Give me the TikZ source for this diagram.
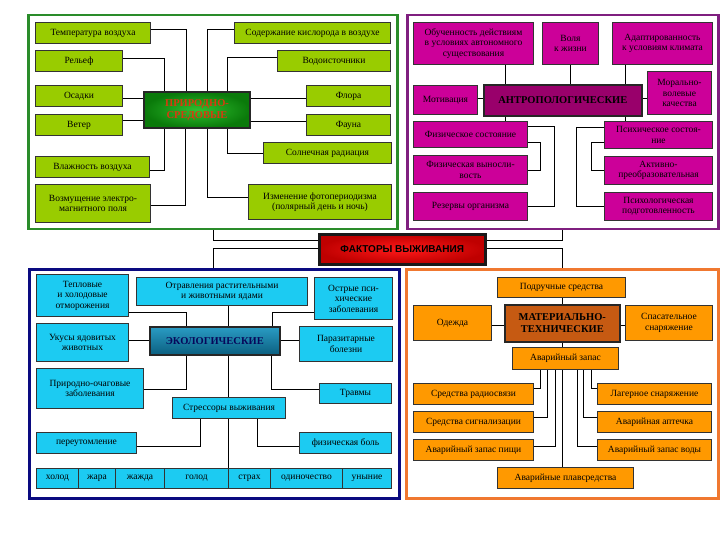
\documentclass[tikz,border=0pt]{standalone}
\usepackage{fontspec}
\setmainfont{Liberation Serif}
\newfontfamily\sansf{Liberation Sans}
\definecolor{gfill}{HTML}{99CC00}
\definecolor{pfill}{HTML}{CC0099}
\definecolor{pmainfill}{HTML}{99006B}
\definecolor{bfill}{HTML}{1CCBF2}
\definecolor{ofill}{HTML}{FF9900}
\definecolor{omainfill}{HTML}{C65A12}
\definecolor{gpanelc}{HTML}{2A8C2A}
\definecolor{ppanelc}{HTML}{7F1F7F}
\definecolor{bpanelc}{HTML}{0A0A80}
\definecolor{opanelc}{HTML}{F07830}
\definecolor{prirtext}{HTML}{D83A10}
\definecolor{gin}{HTML}{2FBF2F}
\definecolor{gout}{HTML}{0A7A0A}
\definecolor{ekoltop}{HTML}{2A9CC4}
\definecolor{ekolbot}{HTML}{0B5F80}
\newcommand\bx[7]{\node[#1,anchor=north west,minimum width={#4-#2},minimum height={#5-#3}] (#6) at (#2,#3) {#7};}
\begin{document}
\begin{tikzpicture}[x=1pt,y=-1pt,
  every node/.style={font=\fontsize{9.5}{10.5}\selectfont, inner sep=1pt, align=center},
  box/.style={draw=black!80, line width=1pt},
  gbox/.style={box, fill=gfill},
  pbox/.style={box, fill=pfill},
  bbox/.style={box, fill=bfill},
  obox/.style={box, fill=ofill},
  titlefont/.style={font=\bfseries\fontsize{10.5}{12}\selectfont},
  gmain/.style={draw=black!85, line width=2pt, inner color=gin, outer color=gout, text=prirtext, titlefont},
  pmain/.style={draw=black!85, line width=1.6pt, fill=pmainfill, titlefont},
  bmain/.style={draw=black!85, line width=1.6pt, top color=ekoltop, bottom color=ekolbot, text=bpanelc!70!black, titlefont},
  omain/.style={draw=black!85, line width=1.6pt, fill=omainfill, titlefont},
  redbox/.style={draw=black!90, line width=2.5pt, inner color=red!90!white, outer color=red!75!black, font=\sansf\bfseries\fontsize{10}{12}\selectfont},
  panel/.style={draw, line width=2.5pt, fill=none, inner sep=0pt},
  conn/.style={draw=black, line width=0.8pt},
]
\fill[white] (0,0) rectangle (720,540);
\useasboundingbox (0,0) rectangle (720,540);

% panels
\bx{panel,draw=gpanelc}{27}{14}{396}{228}{gpan}{}
\bx{panel,draw=ppanelc}{406}{14}{717}{228}{ppan}{}
\bx{panel,draw=bpanelc}{28}{268}{398}{497}{bpan}{}
\bx{panel,draw=opanelc}{405}{268}{717}{497}{opan}{}

% ---------- green ----------
\bx{gbox}{35}{22}{150}{43}{temp}{Температура воздуха}
\bx{gbox}{234}{22}{390}{43}{kisl}{Содержание кислорода в воздухе}
\bx{gbox}{35}{50}{122}{71}{rel}{Рельеф}
\bx{gbox}{277}{50}{390}{71}{vod}{Водоисточники}
\bx{gbox}{35}{85}{122}{106}{osad}{Осадки}
\bx{gbox}{306}{85}{390}{106}{flora}{Флора}
\bx{gbox}{35}{114}{122}{135}{veter}{Ветер}
\bx{gbox}{306}{114}{390}{135}{fauna}{Фауна}
\bx{gmain}{143}{91}{249}{127}{prir}{ПРИРОДНО-\\СРЕДОВЫЕ}
\bx{gbox}{263}{142}{391}{163}{soln}{Солнечная радиация}
\bx{gbox}{35}{156}{149}{177}{vlazh}{Влажность воздуха}
\bx{gbox}{35}{184}{150}{222}{vozm}{Возмущение электро-\\магнитного поля}
\bx{gbox}{248}{184}{391}{219}{izm}{Изменение фотопериодизма\\(полярный день и ночь)}

\draw[conn] (temp.east |- 0,29) -| (186,0 |- prir.north);
\draw[conn] (kisl.west |- 0,29) -| (207,0 |- prir.north);
\draw[conn] (rel.east |- 0,58) -| (164,0 |- prir.north);
\draw[conn] (vod.west |- 0,57) -| (227,0 |- prir.north);
\draw[conn] (osad.east |- 0,98) -- (prir.west |- 0,98);
\draw[conn] (flora.west |- 0,98) -- (prir.east |- 0,98);
\draw[conn] (veter.east |- 0,120) -- (prir.west |- 0,120);
\draw[conn] (fauna.west |- 0,121) -- (prir.east |- 0,121);
\draw[conn] (soln.west |- 0,153) -| (227,0 |- prir.south);
\draw[conn] (vlazh.east |- 0,170) -| (164,0 |- prir.south);
\draw[conn] (vozm.east |- 0,205) -| (185,0 |- prir.south);
\draw[conn] (izm.west |- 0,197) -| (207,0 |- prir.south);

% ---------- purple ----------
\bx{pbox}{413}{22}{533}{64}{obuch}{Обученность действиям\\в условиях автономного\\существования}
\bx{pbox}{542}{22}{598}{64}{volya}{Воля\\к жизни}
\bx{pbox}{612}{22}{712}{64}{adapt}{Адаптированность\\к условиям климата}
\bx{pbox}{413}{85}{477}{114}{motiv}{Мотивация}
\bx{pmain}{483}{84}{641}{115}{antr}{АНТРОПОЛОГИЧЕСКИЕ}
\bx{pbox}{647}{71}{711}{114}{moral}{Морально-\\волевые\\качества}
\bx{pbox}{413}{121}{527}{147}{fizs}{Физическое состояние}
\bx{pbox}{413}{155}{527}{184}{fizv}{Физическая выносли-\\вость}
\bx{pbox}{413}{192}{527}{220}{rez}{Резервы организма}
\bx{pbox}{604}{121}{712}{148}{psih}{Психическое состоя-\\ние}
\bx{pbox}{604}{156}{712}{184}{akt}{Активно-\\преобразовательная}
\bx{pbox}{604}{192}{712}{220}{psihp}{Психологическая\\подготовленность}

\draw[conn] (505,0 |- obuch.south) -- (505,0 |- antr.north);
\draw[conn] (570,0 |- volya.south) -- (570,0 |- antr.north);
\draw[conn] (625,0 |- adapt.south) -- (625,0 |- antr.north);
\draw[conn] (motiv.east |- 0,98) -- (antr.west |- 0,98);
\draw[conn] (antr.east |- 0,98) -- (moral.west |- 0,98);
\draw[conn] (505,0 |- antr.south) -- (505,0 |- fizs.north);
\draw[conn] (625,0 |- antr.south) -- (625,0 |- psih.north);
\draw[conn] (fizs.east |- 0,126) -- (554,126) -- (554,206) -- (rez.east |- 0,206);
\draw[conn] (fizs.east |- 0,142) -- (540,142) -- (540,170) -- (fizv.east |- 0,170);
\draw[conn] (psih.west |- 0,127) -- (576,127) -- (576,206) -- (psihp.west |- 0,206);
\draw[conn] (psih.west |- 0,142) -- (591,142) -- (591,170) -- (akt.west |- 0,170);

% ---------- centre ----------
\bx{redbox}{318}{233}{484}{263}{fact}{ФАКТОРЫ ВЫЖИВАНИЯ}
\draw[conn] (213,0 |- gpan.south) -- (213,240) -- (fact.west |- 0,240);
\draw[conn] (213,0 |- bpan.north) -- (213,248) -- (fact.west |- 0,248);
\draw[conn] (562,0 |- ppan.south) -- (562,240) -- (fact.east |- 0,240);
\draw[conn] (562,0 |- opan.north) -- (562,248) -- (fact.east |- 0,248);

% ---------- blue ----------
\bx{bbox}{36}{274}{128}{316}{tepl}{Тепловые\\и холодовые\\отморожения}
\bx{bbox}{136}{277}{307}{305}{otr}{Отравления растительными\\и животными ядами}
\bx{bbox}{314}{277}{392}{319}{ostr}{Острые пси-\\хические\\заболевания}
\bx{bbox}{36}{323}{128}{361}{ukus}{Укусы ядовитых\\животных}
\bx{bmain}{149}{326}{279}{354}{ekol}{ЭКОЛОГИЧЕСКИЕ}
\bx{bbox}{299}{326}{392}{361}{paraz}{Паразитарные\\болезни}
\bx{bbox}{36}{368}{143}{408}{prirz}{Природно-очаговые\\заболевания}
\bx{bbox}{319}{383}{391}{403}{travm}{Травмы}
\bx{bbox}{172}{397}{285}{418}{stress}{Стрессоры выживания}
\bx{bbox}{36}{432}{136}{453}{pereut}{переутомление}
\bx{bbox}{299}{432}{391}{453}{fizb}{физическая боль}
\bx{bbox}{36}{468}{78}{488}{c1}{холод}
\bx{bbox}{78}{468}{115}{488}{c2}{жара}
\bx{bbox}{115}{468}{164}{488}{c3}{жажда}
\bx{bbox}{164}{468}{228}{488}{c4}{голод}
\bx{bbox}{228}{468}{270}{488}{c5}{страх}
\bx{bbox}{270}{468}{342}{488}{c6}{одиночество}
\bx{bbox}{342}{468}{391}{488}{c7}{уныние}

\draw[conn] (tepl.east |- 0,312) -| (186,0 |- ekol.north);
\draw[conn] (228,0 |- otr.south) -- (228,0 |- ekol.north);
\draw[conn] (ostr.west |- 0,312) -| (272,0 |- ekol.north);
\draw[conn] (ukus.east |- 0,340) -- (ekol.west |- 0,340);
\draw[conn] (ekol.east |- 0,340) -- (paraz.west |- 0,340);
\draw[conn] (186,0 |- ekol.south) |- (prirz.east |- 0,389);
\draw[conn] (271,0 |- ekol.south) |- (travm.west |- 0,389);
\draw[conn] (228,0 |- ekol.south) -- (228,0 |- stress.north);
\draw[conn] (200,0 |- stress.south) |- (pereut.east |- 0,446);
\draw[conn] (257,0 |- stress.south) |- (fizb.west |- 0,446);
\draw[conn] (228,0 |- stress.south) -- (c5.north west);

% ---------- orange ----------
\bx{obox}{497}{277}{625}{297}{podr}{Подручные средства}
\bx{obox}{413}{305}{491}{340}{odezh}{Одежда}
\bx{omain}{504}{304}{619}{341}{mat}{МАТЕРИАЛЬНО-\\ТЕХНИЧЕСКИЕ}
\bx{obox}{625}{305}{712}{340}{spas}{Спасательное\\снаряжение}
\bx{obox}{512}{347}{618}{369}{avz}{Аварийный запас}
\bx{obox}{413}{383}{533}{404}{radio}{Средства радиосвязи}
\bx{obox}{413}{411}{533}{432}{sign}{Средства сигнализации}
\bx{obox}{413}{439}{533}{460}{pisch}{Аварийный запас пищи}
\bx{obox}{597}{383}{711}{404}{lager}{Лагерное снаряжение}
\bx{obox}{597}{411}{711}{432}{apt}{Аварийная аптечка}
\bx{obox}{597}{439}{711}{460}{voda}{Аварийный запас воды}
\bx{obox}{497}{467}{633}{488}{plav}{Аварийные плавсредства}

\draw[conn] (562,0 |- podr.south) -- (562,0 |- mat.north);
\draw[conn] (odezh.east |- 0,325) -- (mat.west |- 0,325);
\draw[conn] (mat.east |- 0,325) -- (spas.west |- 0,325);
\draw[conn] (562,0 |- mat.south) -- (562,0 |- avz.north);
\draw[conn] (540,0 |- avz.south) |- (radio.east |- 0,388);
\draw[conn] (547,0 |- avz.south) |- (sign.east |- 0,417);
\draw[conn] (555,0 |- avz.south) |- (pisch.east |- 0,446);
\draw[conn] (562,0 |- avz.south) -- (562,0 |- plav.north);
\draw[conn] (577,0 |- avz.south) |- (voda.west |- 0,446);
\draw[conn] (583,0 |- avz.south) |- (apt.west |- 0,417);
\draw[conn] (591,0 |- avz.south) |- (lager.west |- 0,388);
\end{tikzpicture}
\end{document}
